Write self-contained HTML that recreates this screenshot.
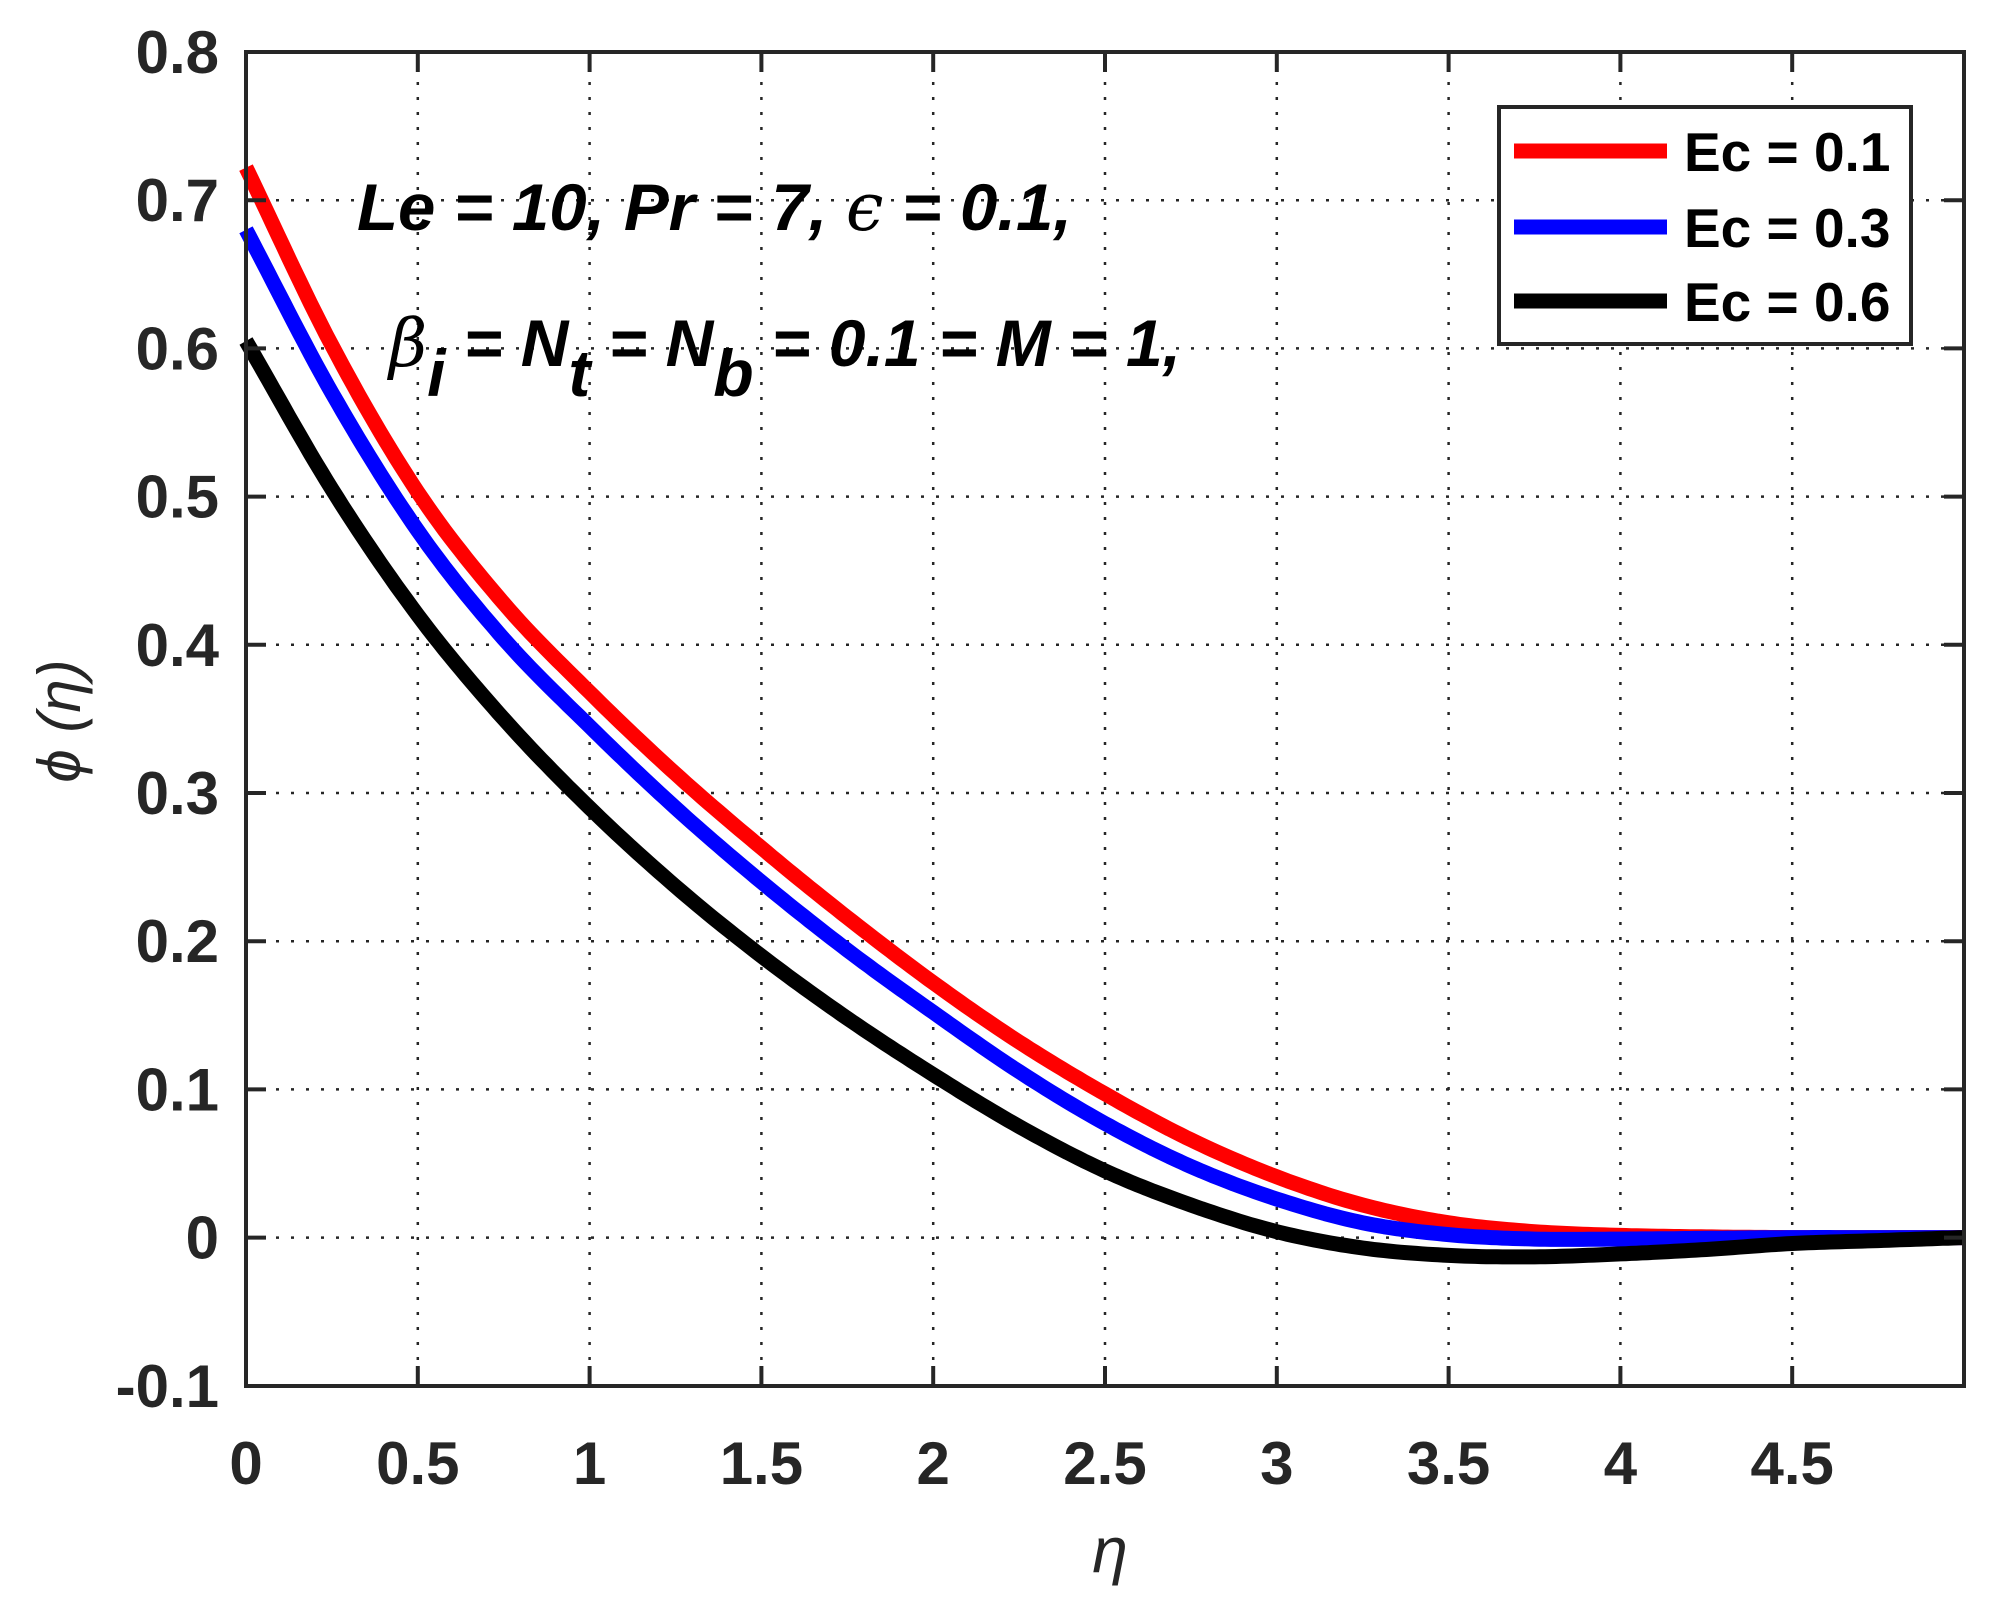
<!DOCTYPE html>
<html><head><meta charset="utf-8"><style>
html,body{margin:0;padding:0;background:#fff;}
svg{display:block;}
text{font-family:"Liberation Sans",Arial,sans-serif;}
</style></head><body>
<svg id="s" width="1994" height="1612" viewBox="0 0 1994 1612" xmlns="http://www.w3.org/2000/svg">
<rect width="1994" height="1612" fill="#fff"/>
<g id="grid" stroke="#262626" stroke-width="2.5" stroke-dasharray="3,12"></g>
<g id="curves" fill="none" stroke-width="15" stroke-linejoin="round"></g>
<rect x="246" y="52" width="1718" height="1334" fill="none" stroke="#262626" stroke-width="4"/>
<g id="ticks" stroke="#262626" stroke-width="4"></g>
<g id="labels" font-weight="bold" font-size="60" fill="#262626"></g>
<g font-weight="bold" font-style="italic" font-size="66" fill="#000">
<text x="357" y="230" textLength="715" lengthAdjust="spacingAndGlyphs">Le = 10, Pr = 7,  <tspan font-family="DejaVu Serif,serif" font-weight="normal">ϵ</tspan> = 0.1,</text>
<text x="389" y="366"><tspan font-family="DejaVu Serif,serif" font-weight="normal">β</tspan><tspan dy="30">i</tspan><tspan dy="-30"> = N</tspan><tspan dy="30">t</tspan><tspan dy="-30"> = N</tspan><tspan dy="30">b</tspan><tspan dy="-30"> = 0.1 = M = 1,</tspan></text>
</g>
<rect x="1499" y="107" width="412" height="237" fill="#fff" stroke="#262626" stroke-width="4"/>
<line x1="1514" y1="151" x2="1667" y2="151" stroke="#ff0000" stroke-width="15"/>
<line x1="1514" y1="227" x2="1667" y2="227" stroke="#0000ff" stroke-width="15"/>
<line x1="1514" y1="301" x2="1667" y2="301" stroke="#000" stroke-width="15"/>
<g font-weight="bold" font-size="55" fill="#000">
<text x="1684" y="171">Ec = 0.1</text>
<text x="1684" y="247">Ec = 0.3</text>
<text x="1684" y="321">Ec = 0.6</text>
</g>
<text x="1110" y="1572" font-size="64" font-style="italic" fill="#262626" text-anchor="middle" font-family="DejaVu Serif,serif">η</text>
<text transform="translate(80,721) rotate(-90)" font-size="60" font-style="italic" fill="#262626" text-anchor="middle" font-family="DejaVu Serif,serif">ϕ (η)</text>
</svg>
<script>
var NS="http://www.w3.org/2000/svg";
function X(e){return 246+343.6*e;} function Y(v){return 52+(0.8-v)*1482;}
function el(p,t,a){var e=document.createElementNS(NS,t);for(var k in a)e.setAttribute(k,a[k]);p.appendChild(e);return e;}
var g=document.getElementById('grid'),tk=document.getElementById('ticks'),lb=document.getElementById('labels');
for(var i=1;i<10;i++){var x=X(i*0.5);el(g,'line',{x1:x,y1:52,x2:x,y2:1386});
 el(tk,'line',{x1:x,y1:52,x2:x,y2:72});el(tk,'line',{x1:x,y1:1386,x2:x,y2:1366});}
for(var i=0;i<10;i++){var x=X(i*0.5);var t=el(lb,'text',{x:x,y:1484,'text-anchor':'middle'});t.textContent=(i*0.5).toString();}
for(var j=-1;j<=8;j++){var v=j/10,y=Y(v);
 if(j>-1&&j<8){el(g,'line',{x1:246,y1:y,x2:1964,y2:y});el(tk,'line',{x1:246,y1:y,x2:266,y2:y});el(tk,'line',{x1:1964,y1:y,x2:1944,y2:y});}
 var t=el(lb,'text',{x:219,y:y+21,'text-anchor':'end'});t.textContent=(j==0?'0':(j<0?'-0.1':'0.'+j));}
var data=[
 ['#ff0000',[0.722,0.602,0.503,0.428,0.368,0.313,0.263,0.216,0.172,0.132,0.097,0.066,0.041,0.022,0.010,0.004,0.0015,0.0005,0,0,0]],
 ['#0000ff',[0.68,0.57,0.477,0.404,0.345,0.290,0.240,0.194,0.152,0.112,0.077,0.048,0.026,0.010,0.002,-0.001,-0.001,-0.0005,0,0,0]],
 ['#000000',[0.605,0.505,0.42,0.35,0.29,0.237,0.19,0.148,0.11,0.075,0.045,0.022,0.004,-0.007,-0.012,-0.013,-0.011,-0.008,-0.004,-0.002,0]]];
var cg=document.getElementById('curves');
data.forEach(function(d){var v=d[1],n=v.length,s='';
 function V(i){if(i<0)return 2*v[0]-v[1];if(i>n-1)return 2*v[n-1]-v[n-2];return v[i];}
 for(var i=0;i<n-1;i++){var a=V(i-1),b=v[i],c=v[i+1],dd=V(i+2);
  for(var k=0;k<=16;k++){if(i>0&&k==0)continue;var t=k/16,t2=t*t,t3=t2*t;
   var yy=0.5*((2*b)+(-a+c)*t+(2*a-5*b+4*c-dd)*t2+(-a+3*b-3*c+dd)*t3);
   var xx=(i+t)*0.25;
   s+=(s?'L':'M')+X(xx).toFixed(1)+','+Y(yy).toFixed(1);}}
 el(cg,'path',{d:s,stroke:d[0]});});
</script>
</body></html>
